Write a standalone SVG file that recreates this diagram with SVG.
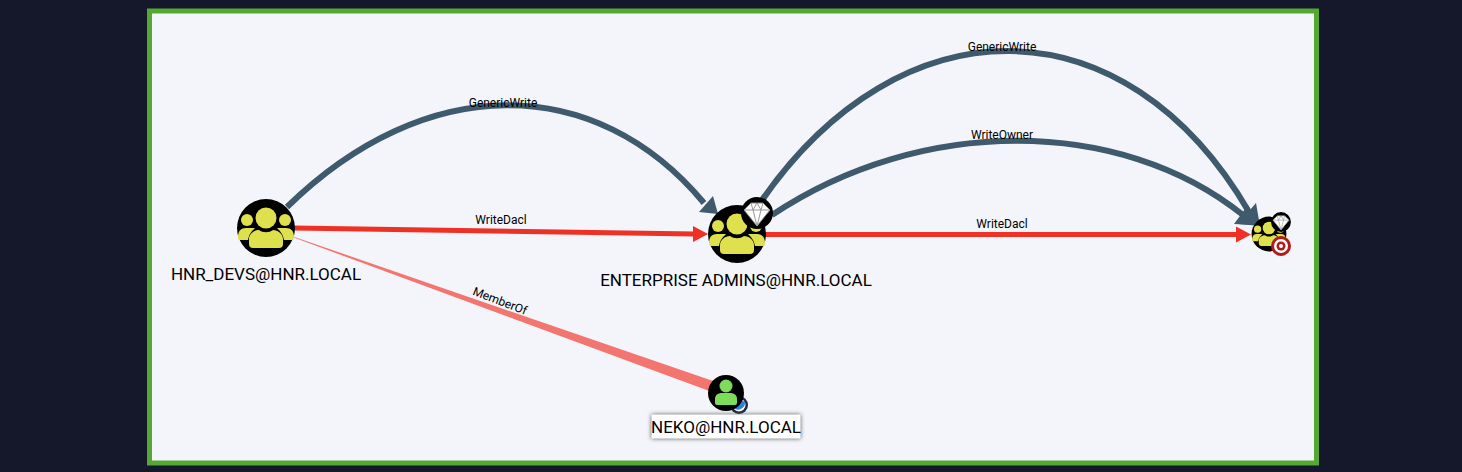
<svg xmlns="http://www.w3.org/2000/svg" width="1462" height="472" viewBox="0 0 1462 472">
<style>
text{font-family:Roboto,"Liberation Sans",sans-serif;fill:#000}
.lbl{font-size:12px;text-anchor:middle}
.name{font-size:17px;text-anchor:middle}
.blue{fill:none;stroke:#3f5a6c;stroke-width:6}
.red{fill:none;stroke:#ef3024;stroke-width:5}
</style>
<defs>
<g id="grp">
<circle r="29" fill="#000"/>
<circle cx="0" cy="-10" r="10.500" fill="#dfe04d"/>
<circle cx="-19" cy="-8" r="6" fill="#dfe04d"/>
<circle cx="19" cy="-8" r="6" fill="#dfe04d"/>
<path d="M-28 9C-28 3-25 0-20 0H-11C-14 3-17 6-18 12H-26Q-28 12-28 9ZM28 9C28 3 25 0 20 0H11C14 3 17 6 18 12H26Q28 12 28 9Z" fill="#dfe04d"/>
<path d="M-17 16V11C-17 6-12 2-7 2C-3 5 3 5 7 2C12 2 17 6 17 11V16Q17 20 13 20H-13Q-17 20-17 16Z" fill="#dfe04d"/>
</g>
<g id="gem">
<circle r="16" fill="#000"/>
<path d="M-6-10H6L13-3L0 13L-13-3Z" fill="#fff" stroke="#888" stroke-width="1"/>
<path d="M-13-3H13M-6-10L-4-3L0 13L4-3L6-10M-4-3L0-10L4-3" fill="none" stroke="#999" stroke-width="1"/>
</g>
</defs>
<rect width="1462" height="472" fill="#15172b"/>
<rect x="149.500" y="11" width="1167" height="452" fill="#f3f5fa" stroke="#55a832" stroke-width="5"/>
<g id="connectors">
<path class="blue" d="M287 207C425 72 595 72 704 203"/>
<path d="M718 214L699 212L713 196Z" fill="#3f5a6c"/>
<path class="blue" d="M760 203C900 -1 1125 -1 1249 212"/>
<path class="blue" d="M772 215C920 116 1120 116 1243 215"/>
<path d="M1260 226L1238 224L1256 203Z" fill="#3f5a6c"/>
<path d="M1258 225L1234 224L1248 205Z" fill="#3f5a6c"/>
<path class="red" d="M294 228L695 234"/>
<path d="M708 234L693 226V242Z" fill="#ef3024"/>
<path class="red" d="M764 234.500H1238"/>
<path d="M1251 234.500L1236 226.500V242.500Z" fill="#ef3024"/>
<path d="M293 236.500L295 238L712 392L716 382Z" fill="#f2766f"/>
<text class="lbl" x="503" y="107">GenericWrite</text>
<text class="lbl" x="501" y="224">WriteDacl</text>
<text class="lbl" x="500" y="305" transform="rotate(21 500 301)">MemberOf</text>
<text class="lbl" x="1002" y="51">GenericWrite</text>
<text class="lbl" x="1002" y="139">WriteOwner</text>
<text class="lbl" x="1002" y="228">WriteDacl</text>
</g>
<g id="hnr-devs">
<use href="#grp" x="266" y="228"/>
<text class="name" x="266" y="280">HNR_DEVS@HNR.LOCAL</text>
</g>
<g id="enterprise-admins">
<use href="#grp" x="737" y="234"/>
<use href="#gem" transform="translate(757 213)"/>
<text class="name" x="736" y="286">ENTERPRISE ADMINS@HNR.LOCAL</text>
</g>
<g id="target">
<use href="#grp" transform="translate(1269 234) scale(.6)"/>
<use href="#gem" transform="translate(1281 222) scale(.62)"/>
<circle cx="1281" cy="246" r="10" fill="#b01c1c"/>
<circle cx="1281" cy="246" r="7" fill="#fff"/>
<circle cx="1281" cy="246" r="4.500" fill="#b01c1c"/>
<circle cx="1281" cy="246" r="2" fill="#fff"/>
</g>
<g id="neko">
<circle cx="739" cy="405" r="9" fill="#1d2a3a"/>
<circle cx="739" cy="405" r="6.500" fill="#fff"/>
<path d="M733.500 408A7 7 0 0 0 745 402L741 400Z" fill="#2f7fdc"/>
<circle cx="726" cy="393" r="18" fill="#000"/>
<circle cx="726" cy="386" r="6.500" fill="#7ddc5a"/>
<path d="M715 403V399C715 395 718 393 722 393H730C734 393 737 395 737 399V403Q737 405 735 405H717Q715 405 715 403Z" fill="#7ddc5a"/>
<rect x="651.500" y="414.500" width="149" height="24" fill="#fff" style="filter:drop-shadow(0 0 2px #555)"/>
<text class="name" x="726" y="433">NEKO@HNR.LOCAL</text>
</g>
</svg>
